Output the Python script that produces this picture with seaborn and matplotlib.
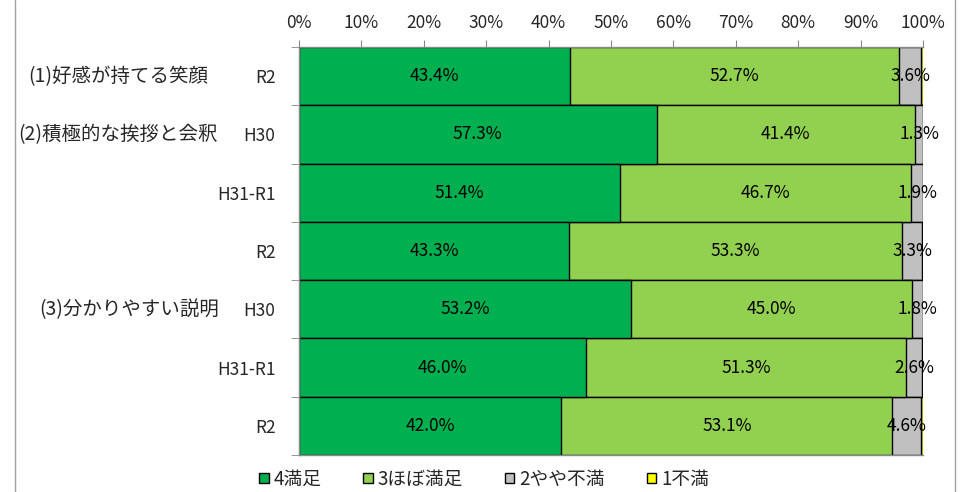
import numpy as np
import pandas as pd
import matplotlib
matplotlib.use("Agg")
import matplotlib.pyplot as plt
from matplotlib.lines import Line2D
import seaborn as sns

years = ["R2", "H30", "H31-R1", "R2", "H30", "H31-R1", "R2"]
groups = ["(1)好感が持てる笑顔", "(2)積極的な挨拶と会釈", "(3)分かりやすい説明"]
group_rows = [0, 1, 4]
series = ["4満足", "3ほぼ満足", "2やや不満", "1不満"]
v4 = [43.4, 57.3, 51.4, 43.3, 53.2, 46.0, 42.0]
v3 = [52.7, 41.4, 46.7, 53.3, 45.0, 51.3, 53.1]
v2 = [3.6, 1.3, 1.9, 3.3, 1.8, 2.6, 4.6]
v1 = [0.3, 0.0, 0.0, 0.1, 0.0, 0.1, 0.3]
colors = ["#00B050", "#92D050", "#C0C0C0", "#FFFF00"]

# layout only: pixel centre of each group label
group_label_px = [118, 118, 129]

sns.set_style("white")
plt.rcParams["font.family"] = ["Noto Sans CJK JP", "DejaVu Sans"]

vals = np.array([v4, v3, v2, v1])
cum = np.cumsum(vals, axis=0)
rows = np.arange(len(years))

fig = plt.figure(figsize=(9.71, 4.92), dpi=100)
ax = fig.add_axes([299 / 971, 1 - 455 / 492, 624 / 971, 408 / 492])

for k in range(3, -1, -1):
    df = pd.DataFrame({"row": rows, "val": cum[k]})
    sns.barplot(data=df, x="val", y="row", orient="h", color=colors[k],
                width=1.0, edgecolor="black", linewidth=1.0, saturation=1,
                ax=ax, label=series[k])

# value labels
for k in range(3):
    left = cum[k] - vals[k]
    for i in rows:
        if vals[k][i] > 0:
            ax.text(left[i] + vals[k][i] / 2, i, f"{vals[k][i]:.1f}%",
                    ha="center", va="center", fontsize=12.5, color="black")

ax.set_xlim(0, 100)
ax.set_ylim(6.5, -0.5)
ax.set_xticks(np.arange(0, 101, 10))
ax.set_xticklabels([f"{t}%" for t in range(0, 101, 10)], fontsize=12.5)
ax.xaxis.tick_top()
ax.tick_params(axis="x", which="major", top=True, bottom=False, length=5,
               color="#888888", pad=6)
ax.set_yticks(rows)
ax.set_yticklabels(years, fontsize=12.5)
ax.set_yticks(np.arange(-0.5, 7, 1), minor=True)
ax.tick_params(axis="y", which="major", length=0, pad=17)
ax.tick_params(axis="y", which="minor", left=True, length=6, color="#888888")
ax.set_xlabel("")
ax.set_ylabel("")
for s in ["left", "top", "bottom"]:
    ax.spines[s].set_color("#888888")
    ax.spines[s].set_linewidth(1)
ax.spines["right"].set_visible(False)

for g, r, px in zip(groups, group_rows, group_label_px):
    ax.text((px - 299) / 624, r, g, transform=ax.get_yaxis_transform(),
            ha="center", va="center", fontsize=14)

if ax.get_legend():
    ax.get_legend().remove()
handles = [plt.Rectangle((0, 0), 1, 1, facecolor=c, edgecolor="black", linewidth=1)
           for c in colors]
fig.legend(handles, series, loc="center", bbox_to_anchor=(484 / 971, 1 - 479 / 492),
           ncol=4, frameon=False, fontsize=13.5, handlelength=0.5, handleheight=0.5,
           handletextpad=0.25, columnspacing=2.25)

for xp in [15, 955]:
    fig.add_artist(Line2D([xp / 971, xp / 971], [0, 1], transform=fig.transFigure,
                          color="#A0A0A0", linewidth=1))

fig.savefig("out.png", dpi=100)
